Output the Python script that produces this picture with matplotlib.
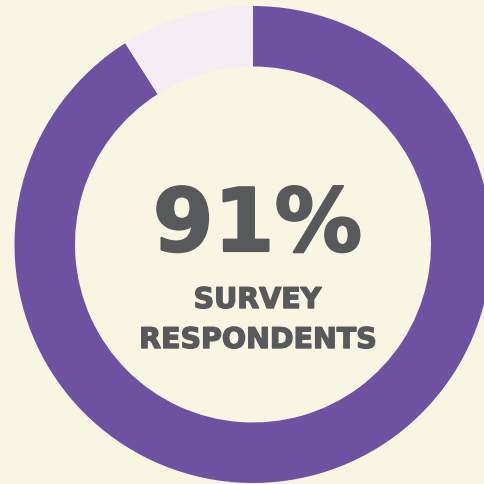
import matplotlib
matplotlib.use("Agg")
import matplotlib.pyplot as plt
import matplotlib.patheffects as pe

labels = ["Survey respondents", "Others"]
values = [91, 9]
big_label = "91%"
sub_label_1 = "SURVEY"
sub_label_2 = "RESPONDENTS"

bg = "#F8F5E3"
colors = ["#6F51A1", "#F6ECF4"]
text_color = "#58595B"

fig = plt.figure(figsize=(4.85, 4.85), dpi=100, facecolor=bg)
ax = fig.add_axes([0, 0, 1, 1])
ax.set_facecolor(bg)

ax.pie(values, radius=238.5, center=(253, 239.5), startangle=90,
       counterclock=False, colors=colors,
       wedgeprops=dict(width=60.5, linewidth=0))
ax.set_xlim(0, 485)
ax.set_ylim(0, 485)
ax.set_aspect("equal")
ax.axis("off")

fam = ["DejaVu Sans"]
ax.text(257.5, 233, big_label, ha="center", va="baseline", fontsize=63,
        fontweight="bold", color=text_color, family=fam,
        path_effects=[pe.withStroke(linewidth=1.5, foreground=text_color)])
ax.text(257.5, 176, sub_label_1, ha="center", va="baseline", fontsize=20.5,
        fontweight="bold", color=text_color, family=fam,
        path_effects=[pe.withStroke(linewidth=1.0, foreground=text_color)])
ax.text(258, 136, sub_label_2, ha="center", va="baseline", fontsize=20.5,
        fontweight="bold", color=text_color, family=fam,
        path_effects=[pe.withStroke(linewidth=1.0, foreground=text_color)])

fig.savefig("out.png", dpi=100, facecolor=bg)
